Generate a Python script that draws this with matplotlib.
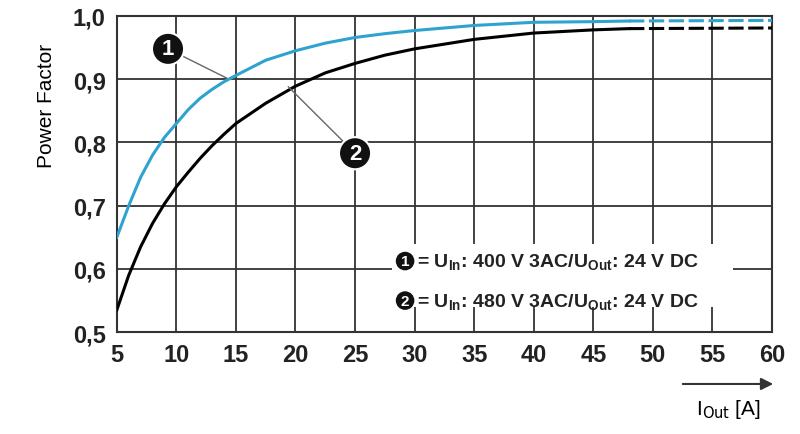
import numpy as np
import matplotlib
matplotlib.use("Agg")
import matplotlib.pyplot as plt

plt.rcParams["font.family"] = ["Liberation Sans", "DejaVu Sans"]
plt.rcParams["mathtext.fontset"] = "custom"
plt.rcParams["mathtext.bf"] = "Liberation Sans:bold"

# solid part of curves
current = [5, 6, 7, 8, 9, 10, 11, 12, 13, 14, 15, 17.5, 20, 22.5, 25, 27.5, 30, 35, 40, 45, 48]
pf_400 = [0.65, 0.70, 0.745, 0.78, 0.808, 0.83, 0.852, 0.87, 0.884, 0.896, 0.906, 0.93,
          0.945, 0.957, 0.966, 0.972, 0.977, 0.985, 0.99, 0.991, 0.992]
pf_480 = [0.535, 0.59, 0.635, 0.672, 0.703, 0.73, 0.753, 0.775, 0.795, 0.813, 0.83, 0.862,
          0.889, 0.91, 0.925, 0.938, 0.948, 0.963, 0.973, 0.978, 0.98]
# dashed extension
current_ext = [48, 60]
pf_400_ext = [0.992, 0.993]
pf_480_ext = [0.98, 0.981]

x_ticks = list(range(5, 61, 5))
y_ticks = [0.5, 0.6, 0.7, 0.8, 0.9, 1.0]
legend_lines = [r"= $\mathbf{U_{In}}$: 400 V 3AC/$\mathbf{U_{Out}}$: 24 V DC",
                r"= $\mathbf{U_{In}}$: 480 V 3AC/$\mathbf{U_{Out}}$: 24 V DC"]

blue = "#2ea3d0"

fig = plt.figure(figsize=(8, 4.35), dpi=100)
ax = fig.add_axes([0.146, 0.234, 0.819, 0.727])

ax.plot(current, pf_400, color=blue, lw=2.2, zorder=3)
ax.plot(current, pf_480, color="black", lw=2.2, zorder=3)
ax.plot(current_ext, pf_400_ext, color=blue, lw=2.2, ls=(0, (5, 1.5)), zorder=3)
ax.plot(current_ext, pf_480_ext, color="black", lw=2.2, ls=(0, (5, 1.5)), zorder=3)

ax.set_xlim(5, 60)
ax.set_ylim(0.5, 1.0)
ax.set_xticks(x_ticks)
ax.set_yticks(y_ticks)
ax.set_yticklabels([f"{v:.1f}".replace(".", ",") for v in y_ticks])
ax.tick_params(length=0, labelsize=17, pad=8)
for lbl in ax.get_xticklabels() + ax.get_yticklabels():
    lbl.set_fontweight("bold")
    lbl.set_color("#222222")
ax.grid(True, color="#333333", lw=1.3)
for s in ax.spines.values():
    s.set_color("#333333")
    s.set_linewidth(1.5)

# callouts
for txt, circ, tip in [("1", (9.3, 0.948), (14.2, 0.902)), ("2", (25.0, 0.783), (19.4, 0.888))]:
    ax.plot([circ[0], tip[0]], [circ[1], tip[1]], color="#666666", lw=1, zorder=4)
    ax.text(circ[0], circ[1], txt, ha="center", va="center", color="white",
            fontsize=16, fontweight="bold", zorder=6,
            bbox=dict(boxstyle="circle,pad=0.25", fc="#111111", ec="white", lw=1.5))

# legend box
ax.add_patch(matplotlib.patches.Rectangle((0.42, 0.08), 0.52, 0.2, transform=ax.transAxes,
                                          fc="white", ec="none", zorder=4))
for i, (n, line) in enumerate(zip(["1", "2"], legend_lines)):
    yy = 0.225 - i * 0.125
    ax.text(0.44, yy, n, transform=ax.transAxes, ha="center", va="center",
            color="white", fontsize=11, fontweight="bold", zorder=7,
            bbox=dict(boxstyle="circle,pad=0.15", fc="#111111", ec="none"))
    ax.text(0.458, yy, line, transform=ax.transAxes, ha="left", va="center",
            fontsize=14, fontweight="bold", color="#222222", zorder=6)

ax.set_ylabel("Power Factor", fontsize=15, labelpad=12, y=0.72)
fig.text(0.87, 0.045, r"I$_{\rm Out}$ [A]", fontsize=15)
fig.add_artist(matplotlib.patches.FancyArrowPatch((0.85, 0.115), (0.97, 0.115),
               transform=fig.transFigure, arrowstyle="-|>", mutation_scale=18, color="#333333", lw=1.5))

fig.savefig("out.png", dpi=100)
